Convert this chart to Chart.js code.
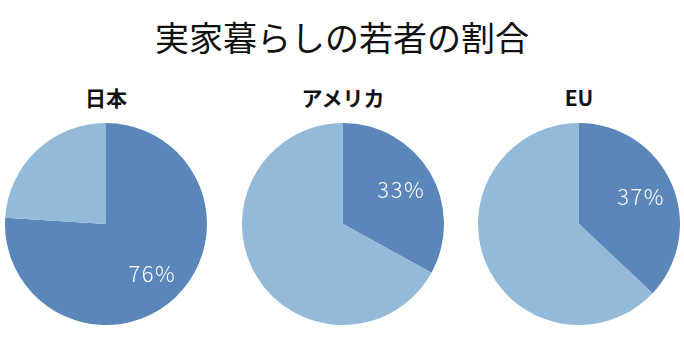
<!DOCTYPE html>
<html><head><meta charset="utf-8">
<script src="https://cdn.jsdelivr.net/npm/chart.js@4/dist/chart.umd.min.js"></script>
<style>
html,body{margin:0;padding:0;background:#fff;width:684px;height:354px;overflow:hidden;font-family:"Noto Sans CJK JP","Noto Sans",sans-serif;}
#title{position:absolute;left:0;top:17px;width:684px;text-align:center;font-size:34px;line-height:40px;color:#111;}
.sub{position:absolute;top:82px;width:200px;text-align:center;font-size:21px;font-weight:bold;line-height:30px;color:#111;}
canvas{position:absolute;}
</style></head><body>
<div id="title">実家暮らしの若者の割合</div>
<script>
const regions = ["日本", "アメリカ", "EU"];
const shares = [76, 33, 37];
const labels = ["実家暮らし", "その他"];
const colors = ["#5b86b9", "#94bada"];
const centersX = [106, 343, 579];
const centerY = 224;
const R = 101;

const pctPlugin = {
  id: 'pct',
  afterDatasetsDraw(chart) {
    const ctx = chart.ctx;
    const arc = chart.getDatasetMeta(0).data[0];
    const v = chart.data.datasets[0].data[0];
    const mid = (arc.startAngle + arc.endAngle) / 2;
    const d = arc.outerRadius * 0.67;
    ctx.save();
    ctx.fillStyle = '#ffffff';
    ctx.font = '300 22px "Noto Sans CJK JP", "Noto Sans", sans-serif';
    ctx.letterSpacing = '1.5px';
    ctx.textAlign = 'center';
    ctx.textBaseline = 'middle';
    ctx.fillText(v + '%', arc.x + Math.cos(mid) * d, arc.y + Math.sin(mid) * d);
    ctx.restore();
  }
};

regions.forEach((name, i) => {
  const sub = document.createElement('div');
  sub.className = 'sub';
  sub.textContent = name;
  sub.style.left = (centersX[i] - 100) + 'px';
  document.body.appendChild(sub);
  const c = document.createElement('canvas');
  c.width = 2 * R; c.height = 2 * R;
  c.style.width = 2 * R + 'px'; c.style.height = 2 * R + 'px';
  c.style.left = (centersX[i] - R) + 'px';
  c.style.top = (centerY - R) + 'px';
  document.body.appendChild(c);
  new Chart(c, {
    type: 'pie',
    data: { labels: labels, datasets: [{ data: [shares[i], 100 - shares[i]], backgroundColor: colors, borderWidth: 0 }] },
    options: {
      responsive: false, animation: false,
      layout: { padding: 0 },
      plugins: { legend: { display: false }, tooltip: { enabled: false } }
    },
    plugins: [pctPlugin]
  });
});
</script>
</body></html>
